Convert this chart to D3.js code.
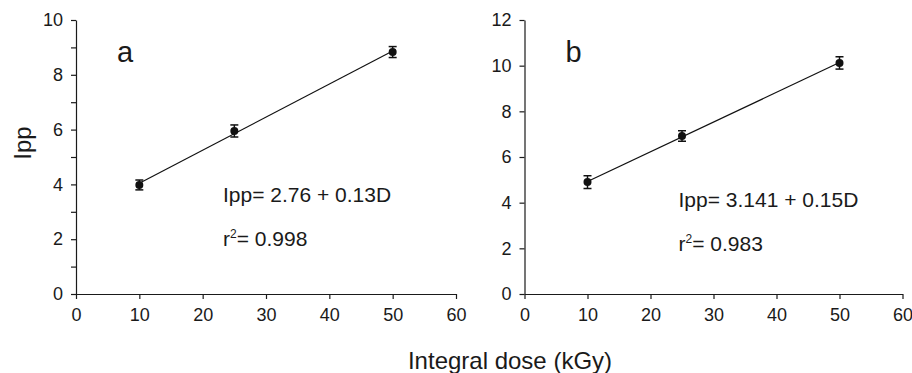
<!DOCTYPE html>
<html>
<head>
<meta charset="utf-8">
<script src="https://cdn.jsdelivr.net/npm/d3@7"></script>
<style>
  body { margin: 0; background: #fff; }
  text { font-family: "Liberation Sans", Arial, sans-serif; fill: #1a1a1a; }
  .axis path, .axis line { stroke: #1a1a1a; stroke-width: 1.2; }
</style>
</head>
<body>
<div id="chart-area"></div>
<script>
// values
let doses = [10, 25, 50]
let ippA = [3.98, 5.95, 8.83]
let errA = [0.18, 0.22, 0.2]
let ippB = [4.9, 6.92, 10.12]
let errB = [0.28, 0.23, 0.27]

let xTicks = [0, 10, 20, 30, 40, 50, 60]
let yTicksA = [0, 1, 2, 3, 4, 5, 6, 7, 8, 9, 10]
let yTicksB = [0, 2, 4, 6, 8, 10, 12]

let panels = [
  {letter: "a", ipp: ippA, err: errA, yMax: 10, yTicks: yTicksA, width: 380,
   eq: "Ipp= 2.76 + 0.13D", r2: "0.998", left: 76, eqX: 147, eqY: 202, rY: 246},
  {letter: "b", ipp: ippB, err: errB, yMax: 12, yTicks: yTicksB, width: 378,
   eq: "Ipp= 3.141 + 0.15D", r2: "0.983", left: 524.5, eqX: 154, eqY: 207, rY: 251}
]

let marginTop = 20, plotH = 274

let svg = d3.select("#chart-area").append("svg")
  .attr("width", 912)
  .attr("height", 373)

// least squares line through the points
function fit(xs, ys) {
  let mx = d3.mean(xs), my = d3.mean(ys)
  let sxy = d3.sum(xs, (x, i) => (x - mx) * (ys[i] - my))
  let sxx = d3.sum(xs, x => (x - mx) * (x - mx))
  let b = sxy / sxx
  return {a: my - b * mx, b: b}
}

panels.forEach(p => {
  let group = svg.append("g")
    .attr("transform", "translate(" + p.left + ", " + marginTop + ")")

  let x = d3.scaleLinear().domain([0, 60]).range([0, p.width])
  let y = d3.scaleLinear().domain([0, p.yMax]).range([plotH, 0])

  let yAxisCall = d3.axisLeft(y)
    .tickValues(p.yTicks)
    .tickSize(5)
    .tickSizeOuter(0)
    .tickPadding(8)
    .tickFormat(d => d % 2 === 0 ? d : "")
  group.append("g")
    .attr("class", "axis")
    .call(yAxisCall)
    .selectAll("text")
      .attr("font-size", "18px")
      .attr("font-family", "Liberation Sans, Arial, sans-serif")

  let xAxisCall = d3.axisBottom(x)
    .tickValues(xTicks)
    .tickSize(5)
    .tickSizeOuter(0)
    .tickPadding(9)
  group.append("g")
    .attr("class", "axis")
    .attr("transform", "translate(0, " + plotH + ")")
    .call(xAxisCall)
    .selectAll("text")
      .attr("font-size", "18px")
      .attr("font-family", "Liberation Sans, Arial, sans-serif")

  // regression line
  let f = fit(doses, p.ipp)
  let x0 = d3.min(doses), x1 = d3.max(doses)
  group.append("line")
    .attr("x1", x(x0)).attr("y1", y(f.a + f.b * x0))
    .attr("x2", x(x1)).attr("y2", y(f.a + f.b * x1))
    .attr("stroke", "#111")
    .attr("stroke-width", 1.2)

  // error bars
  let pts = doses.map((d, i) => ({d: d, v: p.ipp[i], e: p.err[i]}))
  let bars = group.selectAll(".err").data(pts).enter().append("g")
    .attr("class", "err")
    .attr("stroke", "#111")
    .attr("stroke-width", 1.5)
  bars.append("line")
    .attr("x1", d => x(d.d)).attr("x2", d => x(d.d))
    .attr("y1", d => y(d.v - d.e)).attr("y2", d => y(d.v + d.e))
  bars.append("line")
    .attr("x1", d => x(d.d) - 4).attr("x2", d => x(d.d) + 4)
    .attr("y1", d => y(d.v - d.e)).attr("y2", d => y(d.v - d.e))
  bars.append("line")
    .attr("x1", d => x(d.d) - 4).attr("x2", d => x(d.d) + 4)
    .attr("y1", d => y(d.v + d.e)).attr("y2", d => y(d.v + d.e))

  group.selectAll(".dot").data(pts).enter().append("circle")
    .attr("class", "dot")
    .attr("cx", d => x(d.d))
    .attr("cy", d => y(d.v))
    .attr("r", 4)
    .attr("fill", "#111")

  // panel letter
  group.append("text")
    .attr("x", 41)
    .attr("y", 42)
    .attr("font-size", "29px")
    .text(p.letter)

  // equation
  group.append("text")
    .attr("x", p.eqX)
    .attr("y", p.eqY - marginTop)
    .attr("font-size", "21px")
    .text(p.eq)

  let r = group.append("text")
    .attr("x", p.eqX)
    .attr("y", p.rY - marginTop)
    .attr("font-size", "21px")
  r.append("tspan").text("r")
  r.append("tspan").attr("font-size", "12px").attr("dy", "-8").text("2")
  r.append("tspan").attr("dy", "8").text("= " + p.r2)
})

// Y label
svg.append("text")
  .attr("x", -143)
  .attr("y", 31)
  .attr("font-size", "24px")
  .attr("text-anchor", "middle")
  .attr("transform", "rotate(-90)")
  .text("Ipp")

// X label
svg.append("text")
  .attr("x", 510)
  .attr("y", 369)
  .attr("font-size", "24px")
  .attr("text-anchor", "middle")
  .text("Integral dose (kGy)")
</script>
</body>
</html>
